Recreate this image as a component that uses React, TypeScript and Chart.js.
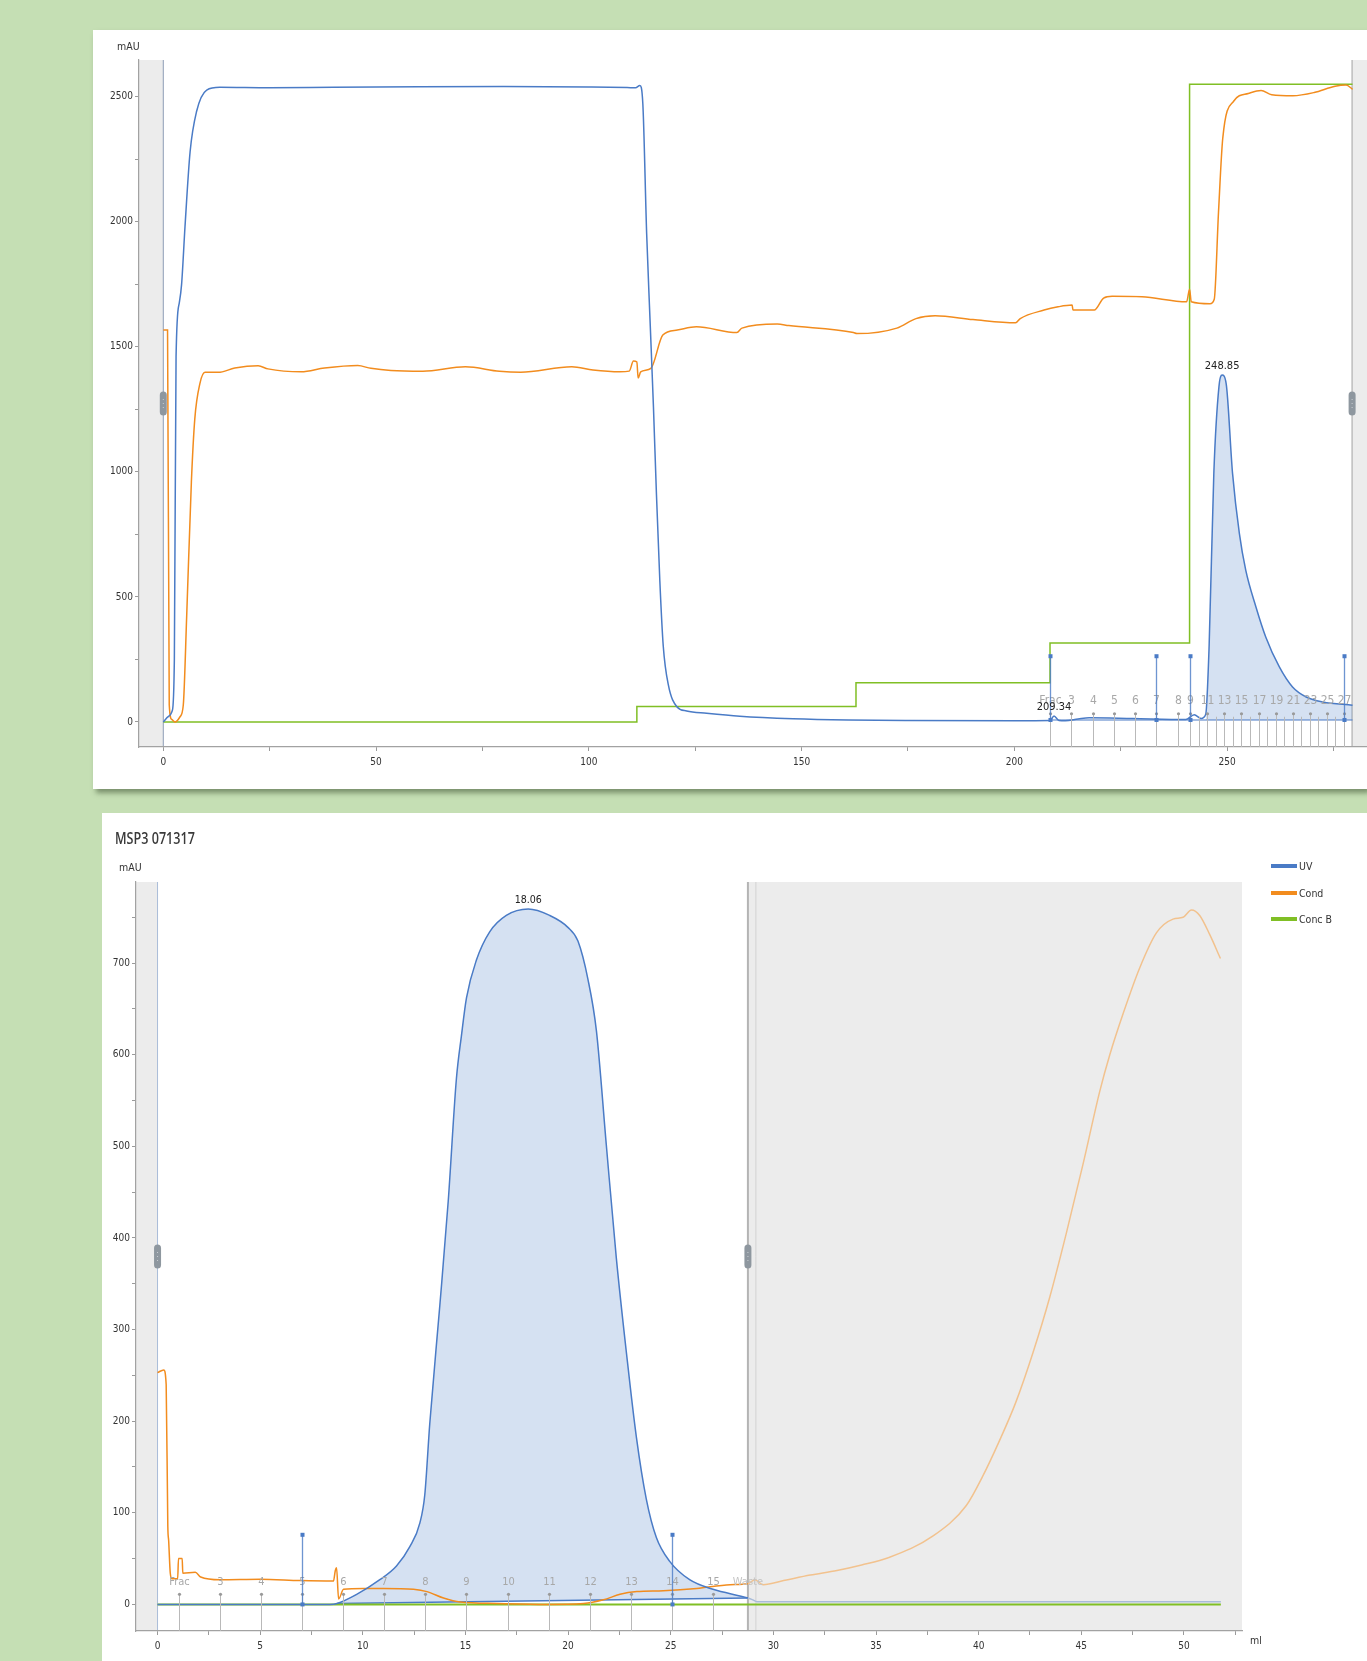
import React, { useEffect, useRef } from 'react';
import { Chart, registerables } from 'chart.js';

Chart.register(...registerables);

const FONT = '"Liberation Sans Narrow", "DejaVu Sans Condensed", "Liberation Sans", Arial, sans-serif';
Chart.defaults.font.family = FONT;

const BLUE = '#4a7bc6';
const ORANGE = '#f28c1e';
const GREEN = '#80bf25';
const BLUE_FADED = '#a9bcd9';
const ORANGE_FADED = '#f2c28e';
const GREEN_FADED = '#bfdc98';
const FILL = 'rgba(74,124,199,0.23)';

// ---------------- TOP RUN (ml vs mAU) ----------------
const topUv: number[][] = [
  [0, 0], [1.2, 22], [2.1, 45], [2.6, 250], [3.0, 1460], [3.75, 1675], [4.3, 1750], [5.1, 1980], [6.3, 2280],
  [7.8, 2440], [10.2, 2527], [13.3, 2538], [25, 2536], [40, 2538], [60, 2540], [80, 2541], [100, 2539],
  [109, 2537], [111, 2536], [112, 2545], [112.7, 2473], [113.6, 1953], [114.4, 1606], [115.2, 1259],
  [115.9, 912], [116.7, 564], [117.5, 304], [118.7, 148], [120.7, 61], [123, 44], [127.7, 35], [135.5, 23],
  [148, 13], [161, 8], [175, 6], [200, 5], [208.4, 6], [209.34, 24], [210.5, 6], [212, 5], [215, 12],
  [217.6, 17], [227.8, 14], [240.3, 10], [242.3, 29], [243.9, 14], [245, 31], [245.8, 306], [246.9, 994],
  [248.1, 1340], [248.85, 1387], [249.8, 1353], [251.3, 994], [252.9, 754], [254.4, 607], [256.8, 460],
  [259.1, 340], [262.3, 220], [265.4, 140], [268.6, 100], [272.5, 80], [279.5, 67],
];
const topCond: number[][] = [
  [0, 1567], [1, 1567], [1.4, 68], [2, 10], [2.8, 0], [3.9, 20], [4.7, 68], [5.5, 425], [6.6, 960],
  [7.4, 1211], [8.6, 1353], [9.8, 1398], [12.9, 1398], [16.8, 1415], [22.3, 1424], [24.6, 1412],
  [32.4, 1400], [37.9, 1415], [45.7, 1425], [48.8, 1414], [53.5, 1405], [61, 1402], [71, 1420], [79, 1402],
  [84, 1398], [96, 1420], [101, 1407], [107.3, 1400], [109.5, 1403], [110.5, 1443], [111.3, 1440],
  [111.6, 1375], [112.2, 1400], [114.6, 1414], [117.4, 1547], [120.8, 1567], [125.3, 1580], [134.8, 1557],
  [136, 1575], [144.3, 1591], [147, 1585], [162.2, 1557], [163, 1553], [172.4, 1575], [176.9, 1613],
  [181.4, 1624], [190.3, 1609], [200.3, 1596], [201.4, 1613], [207, 1647], [210.3, 1660], [213.6, 1667],
  [213.8, 1647], [218.8, 1647], [221, 1695], [223, 1702], [230, 1700], [240.5, 1680], [241.2, 1730],
  [241.6, 1680], [246, 1672], [247, 1690], [248, 2038], [249, 2334], [251.6, 2483], [255, 2513],
  [258, 2525], [260.5, 2508], [265.5, 2504], [270.5, 2517], [275.4, 2542], [278, 2547], [279.5, 2530],
];
const topConcB: number[][] = [
  [0, 0], [111.3, 0], [111.3, 62], [162.8, 62], [162.8, 157], [208.4, 157], [208.4, 316], [241.2, 316],
  [241.2, 2550], [279.5, 2550],
];
const topBaseline: number[][] = [[208.4, 8], [279.5, 8]];
const topPeakRange = [244, 279.5];
const topPeakBase = 8;
const topXTicks = [0, 25, 50, 75, 100, 125, 150, 175, 200, 225, 250, 275];
const topYTicks = [0, 250, 500, 750, 1000, 1250, 1500, 1750, 2000, 2250, 2500];
const topFractionPos = [
  208.4, 213.4, 218.4, 223.4, 228.4, 233.4, 238.4, 241.4, 243.4, 245.4, 247.4, 249.4, 251.4, 253.4,
  255.4, 257.4, 259.4, 261.4, 263.4, 265.4, 267.4, 269.4, 271.4, 273.4, 275.4, 277.4,
];
const topFractionLabels = [
  'Frac', '3', '4', '5', '6', '7', '8', '9', '', '11', '', '13', '', '15', '', '17', '', '19', '', '21',
  '', '23', '', '25', '', '27',
];
const topMarkerPos = [208.4, 233.4, 241.4, 277.4];
const topMarkerRange = [8, 263];
const topPeaks: [number, number, string][] = [[209.34, 24, '209.34'], [248.85, 1387, '248.85']];

// ---------------- BOTTOM RUN: MSP3 071317 ----------------
const bottomUv: number[][] = [
  [0, 0], [8.4, 0], [8.74, 1], [9.7, 11], [10.83, 27], [11.64, 42], [12.29, 63], [12.78, 89], [13.02, 120],
  [13.26, 197], [13.75, 326], [14.16, 440], [14.56, 574], [14.8, 620], [15.05, 662], [15.53, 703],
  [16.18, 734], [16.99, 752], [18.06, 759], [19.1, 752], [19.99, 739], [20.48, 724], [20.97, 682],
  [21.38, 626], [21.86, 502], [22.35, 378], [22.84, 275], [23.33, 182], [23.81, 115], [24.3, 73],
  [24.95, 47], [25.92, 27], [27.06, 16.5], [28.76, 7], [29.0, 5], [29.2, 3], [35, 3], [51.8, 3],
];
const bottomCond: number[][] = [
  [0, 253], [0.3, 256], [0.42, 240], [0.5, 85], [0.54, 70], [0.62, 34], [0.7, 28], [0.98, 28], [1.02, 50],
  [1.2, 50], [1.23, 34], [1.84, 35], [2.1, 30], [3.05, 27], [5, 27.5], [6.95, 26], [8.57, 25.5], [8.66, 37],
  [8.72, 40], [8.82, 6], [9.06, 16.5], [10.04, 17.5], [11.01, 17.5], [12.47, 16.5], [13.12, 14], [13.93, 7],
  [14.74, 2.6], [16.53, 1], [18.96, 0], [20.75, 1], [21.72, 5], [22.53, 11], [23.35, 14], [24.64, 15],
  [26.27, 17.5], [27.89, 21.5], [28.76, 22.5], [29.1, 27], [29.5, 21.5], [30.5, 26], [31.8, 32],
  [33.1, 37], [34.3, 43], [35.6, 51], [37.8, 75], [39.4, 108], [40.2, 140], [41, 178],
  [41.8, 220], [42.65, 275], [43.46, 335], [44.27, 405], [45.08, 480], [45.9, 560], [46.39, 600],
  [47.04, 645], [47.85, 695], [48.66, 733], [49.47, 748], [49.96, 750], [50.37, 758], [50.77, 752],
  [51.26, 731], [51.78, 705],
];
const bottomConcB: number[][] = [[0, 0], [51.8, 0]];
const bottomBaseline: number[][] = [[8.74, 1], [28.76, 7]];
const bottomPeakRange = [8.74, 28.76];
const bottomRunEnd = 28.76;
const bottomXTicks = [0, 2.5, 5, 7.5, 10, 12.5, 15, 17.5, 20, 22.5, 25, 27.5, 30, 32.5, 35, 37.5, 40, 42.5, 45, 47.5, 50, 52.5];
const bottomYTicks = [0, 50, 100, 150, 200, 250, 300, 350, 400, 450, 500, 550, 600, 650, 700, 750];
const bottomFractionPos = [1.05, 3.05, 5.05, 7.05, 9.05, 11.05, 13.05, 15.05, 17.05, 19.05, 21.05, 23.05, 25.05, 27.05];
const bottomFractionLabels = ['Frac', '3', '4', '5', '6', '7', '8', '9', '10', '11', '12', '13', '14', '15'];
const bottomMarkerPos = [7.05, 25.05];
const bottomMarkerRange = [0, 76];
const bottomPeaks: [number, number, string][] = [[18.06, 759, '18.06']];
const legendItems: [string, string][] = [['UV', BLUE], ['Cond', ORANGE], ['Conc B', GREEN]];

const xy = (pts: number[][]) => pts.map(([x, y]) => ({ x, y }));

type Decor = {
  bands: [number, number][];
  vlines: [number, string, number][];
  handles: number[];
  fracPos: number[];
  fracLabels: string[];
  fracDot: number;
  fracLabelY: number;
  fracFont: number;
  extraLabel?: [number, string];
  markers: number[];
  markerRange: number[];
  peaks: [number, number, string][];
  peakFont: number;
};

function decorPlugin(d: Decor) {
  return {
    id: 'decor',
    beforeDraw(chart: any) {
      const { ctx, chartArea: a, scales } = chart;
      const x = scales.x;
      ctx.save();
      ctx.fillStyle = '#ececec';
      for (const [b0, b1] of d.bands) {
        const p0 = Math.max(a.left, x.getPixelForValue(b0));
        const p1 = Math.min(a.right, x.getPixelForValue(b1));
        ctx.fillRect(p0, a.top, p1 - p0, a.bottom - a.top);
      }
      for (const [v, color, w] of d.vlines) {
        const px = x.getPixelForValue(v);
        ctx.strokeStyle = color;
        ctx.lineWidth = w;
        ctx.beginPath();
        ctx.moveTo(px, a.top);
        ctx.lineTo(px, a.bottom);
        ctx.stroke();
      }
      ctx.restore();
    },
    afterDatasetsDraw(chart: any) {
      const { ctx, chartArea: a, scales } = chart;
      const x = scales.x;
      const y = scales.y;
      ctx.save();
      d.fracPos.forEach((v, i) => {
        const px = Math.round(x.getPixelForValue(v)) + 0.5;
        const lab = d.fracLabels[i];
        const top = y.getPixelForValue(d.fracDot) + (lab ? 0 : 3);
        ctx.strokeStyle = '#b9b9b9';
        ctx.lineWidth = 1;
        ctx.beginPath();
        ctx.moveTo(px, top);
        ctx.lineTo(px, a.bottom);
        ctx.stroke();
        if (lab) {
          ctx.fillStyle = '#9a9a9a';
          ctx.beginPath();
          ctx.arc(px, top, 1.6, 0, Math.PI * 2);
          ctx.fill();
          ctx.fillStyle = '#a8a8a8';
          ctx.font = `${d.fracFont}px ${FONT}`;
          ctx.textAlign = 'center';
          ctx.textBaseline = 'middle';
          ctx.fillText(lab, px, y.getPixelForValue(d.fracLabelY));
        }
      });
      if (d.extraLabel) {
        ctx.fillStyle = '#c4c4c4';
        ctx.font = `${d.fracFont}px ${FONT}`;
        ctx.textAlign = 'center';
        ctx.textBaseline = 'middle';
        ctx.fillText(d.extraLabel[1], x.getPixelForValue(d.extraLabel[0]), y.getPixelForValue(d.fracLabelY));
      }
      for (const v of d.markers) {
        const px = Math.round(x.getPixelForValue(v)) + 0.5;
        const y0 = y.getPixelForValue(d.markerRange[0]);
        const y1 = y.getPixelForValue(d.markerRange[1]);
        ctx.strokeStyle = 'rgba(74,123,198,0.8)';
        ctx.lineWidth = 1.3;
        ctx.beginPath();
        ctx.moveTo(px, y0);
        ctx.lineTo(px, y1);
        ctx.stroke();
        ctx.fillStyle = BLUE;
        ctx.fillRect(px - 2, y1 - 2, 4, 4);
        ctx.fillRect(px - 2, y0 - 2, 4, 4);
      }
      for (const [pv, pyv, text] of d.peaks) {
        ctx.fillStyle = '#222';
        ctx.font = `${d.peakFont}px ${FONT}`;
        ctx.textAlign = 'center';
        ctx.textBaseline = 'middle';
        ctx.fillText(text, x.getPixelForValue(pv), y.getPixelForValue(pyv) - 9);
      }
      const cy = (a.top + a.bottom) / 2;
      for (const hv of d.handles) {
        const px = x.getPixelForValue(hv);
        const w = 7, h = 24, r = 3.5;
        ctx.fillStyle = '#8e979f';
        ctx.beginPath();
        ctx.moveTo(px - w / 2 + r, cy - h / 2);
        ctx.arcTo(px + w / 2, cy - h / 2, px + w / 2, cy + h / 2, r);
        ctx.arcTo(px + w / 2, cy + h / 2, px - w / 2, cy + h / 2, r);
        ctx.arcTo(px - w / 2, cy + h / 2, px - w / 2, cy - h / 2, r);
        ctx.arcTo(px - w / 2, cy - h / 2, px + w / 2, cy - h / 2, r);
        ctx.closePath();
        ctx.fill();
        ctx.fillStyle = '#c9ced2';
        for (const dy of [-4, 0, 4]) ctx.fillRect(px - 0.5, cy + dy - 0.5, 1, 1);
      }
      ctx.restore();
    },
  };
}

function axisOpts(min: number, max: number, ticks: number[], labelEvery: number, size: number, horizontal: boolean) {
  return {
    type: 'linear',
    min,
    max,
    afterBuildTicks: (s: any) => {
      s.ticks = ticks.map((v) => ({ value: v }));
    },
    afterFit: (s: any) => {
      if (horizontal) s.height = size;
      else s.width = size;
    },
    ticks: {
      autoSkip: false,
      maxRotation: 0,
      minRotation: 0,
      includeBounds: false,
      color: '#333',
      font: { size: 10, family: FONT },
      padding: horizontal ? 5 : 2,
      callback: (v: number) => (Math.abs(v / labelEvery - Math.round(v / labelEvery)) < 1e-9 ? String(v) : ''),
    },
    grid: { drawOnChartArea: false, drawTicks: true, tickLength: 4, color: '#9a9a9a' },
    border: { display: true, color: '#a2a2a2', width: 1.2 },
  };
}

const line = (label: string, data: number[][], color: string, extra: any = {}) => ({
  label,
  data: xy(data),
  borderColor: color,
  borderWidth: 1.5,
  pointRadius: 0,
  fill: false,
  cubicInterpolationMode: 'monotone',
  ...extra,
});

function buildTop() {
  const decor = decorPlugin({
    bands: [[-10, 0], [279.4, 300]],
    vlines: [[0, '#8d9cb6', 1], [279.4, '#bdbdbd', 1.5]],
    handles: [0, 279.4],
    fracPos: topFractionPos,
    fracLabels: topFractionLabels,
    fracDot: 33,
    fracLabelY: 84,
    fracFont: 12,
    markers: topMarkerPos,
    markerRange: topMarkerRange,
    peaks: topPeaks,
    peakFont: 11,
  });
  return {
    type: 'line',
    data: {
      datasets: [
        line('UV', topUv, BLUE),
        line('baseline', topBaseline, BLUE, { borderWidth: 1.2, cubicInterpolationMode: 'default', tension: 0 }),
        line('Cond', topCond, ORANGE),
        line('Conc B', topConcB, GREEN, { cubicInterpolationMode: 'default', tension: 0 }),
        line('peak', topUv.filter((p) => p[0] >= topPeakRange[0] && p[0] <= topPeakRange[1]), 'rgba(0,0,0,0)', {
          borderWidth: 0,
          fill: { value: topPeakBase },
          backgroundColor: FILL,
        }),
      ],
    },
    options: {
      animation: false,
      responsive: false,
      devicePixelRatio: 1,
      events: [],
      layout: { padding: { top: 30, left: 0, right: 0, bottom: 0 } },
      plugins: { legend: { display: false }, tooltip: { enabled: false } },
      scales: {
        x: axisOpts(-5.71, 282.9, topXTicks, 50, 42, true),
        y: axisOpts(-100, 2647, topYTicks, 500, 46, false),
      },
    },
    plugins: [decor],
  };
}

function buildBottom() {
  const faded = (normal: string, fadedC: string) => ({
    borderColor: (c: any) => (c.p0.parsed.x >= bottomRunEnd - 0.001 ? fadedC : normal),
  });
  const decor = decorPlugin({
    bands: [[-5, 0], [bottomRunEnd, 60]],
    vlines: [[0, '#a9bcd8', 1], [bottomRunEnd, '#b4b4b4', 2], [29.15, '#d2d2d2', 1]],
    handles: [0, bottomRunEnd],
    fracPos: bottomFractionPos,
    fracLabels: bottomFractionLabels,
    fracDot: 11,
    fracLabelY: 24,
    fracFont: 11,
    extraLabel: [bottomRunEnd, 'Waste'],
    markers: bottomMarkerPos,
    markerRange: bottomMarkerRange,
    peaks: bottomPeaks,
    peakFont: 10.5,
  });
  return {
    type: 'line',
    data: {
      datasets: [
        line('UV', bottomUv, BLUE, { segment: faded(BLUE, BLUE_FADED) }),
        line('Cond', bottomCond, ORANGE, { segment: faded(ORANGE, ORANGE_FADED) }),
        line('Conc B', bottomConcB, GREEN, { cubicInterpolationMode: 'default', tension: 0, borderWidth: 2, segment: faded(GREEN, GREEN_FADED) }),
        line('baseline', bottomBaseline, BLUE, { borderWidth: 1.3, cubicInterpolationMode: 'default', tension: 0 }),
        line('peak', bottomUv.filter((p) => p[0] >= bottomPeakRange[0] && p[0] <= bottomPeakRange[1]), 'rgba(0,0,0,0)', {
          borderWidth: 0,
          fill: 3,
          backgroundColor: FILL,
        }),
      ],
    },
    options: {
      animation: false,
      responsive: false,
      devicePixelRatio: 1,
      events: [],
      layout: { padding: { top: 69, left: 0, right: 125, bottom: 0 } },
      plugins: { legend: { display: false }, tooltip: { enabled: false } },
      scales: {
        x: axisOpts(-1.05, 52.83, bottomXTicks, 5, 30, true),
        y: axisOpts(-29, 788.5, bottomYTicks, 100, 34, false),
      },
    },
    plugins: [decor],
  };
}

function ChartCanvas({ build, width, height }: { build: () => any; width: number; height: number }) {
  const ref = useRef<HTMLCanvasElement>(null);
  useEffect(() => {
    if (!ref.current) return;
    const chart = new Chart(ref.current, build());
    return () => chart.destroy();
  }, []);
  return (
    <canvas
      ref={ref}
      width={width}
      height={height}
      style={{ position: 'absolute', left: 0, top: 0, width, height, display: 'block' }}
    />
  );
}

const smallText: React.CSSProperties = {
  position: 'absolute',
  fontFamily: FONT,
  fontSize: 10.5,
  color: '#333',
  lineHeight: '12px',
  whiteSpace: 'nowrap',
};

export default function App() {
  return (
    <div
      style={{
        position: 'fixed',
        left: 0,
        top: 0,
        width: 1367,
        height: 1661,
        background: '#c5dfb4',
        overflow: 'hidden',
      }}
    >
      <div
        style={{
          position: 'absolute',
          left: 93,
          top: 30,
          width: 1274,
          height: 759,
          background: '#fff',
          boxShadow: '3px 4px 5px rgba(60,80,50,0.55)',
        }}
      >
        <ChartCanvas build={buildTop} width={1274} height={759} />
        <div style={{ ...smallText, left: 24, top: 10 }}>mAU</div>
      </div>
      <div
        style={{
          position: 'absolute',
          left: 102,
          top: 813,
          width: 1265,
          height: 848,
          background: '#fff',
        }}
      >
        <ChartCanvas build={buildBottom} width={1265} height={848} />
        <div
          style={{
            position: 'absolute',
            left: 13,
            top: 14,
            fontFamily: '"Open Sans", Roboto, sans-serif',
            fontSize: 17,
            fontWeight: 600,
            color: '#3a3a3a',
            lineHeight: '22px',
            whiteSpace: 'nowrap',
            transform: 'scaleX(0.74)',
            transformOrigin: 'left center',
          }}
        >
          MSP3 071317
        </div>
        <div style={{ ...smallText, left: 17, top: 48 }}>mAU</div>
        {legendItems.map(([name, color], i) => (
          <div key={name} style={{ position: 'absolute', left: 1169, top: 47 + i * 26.5, height: 12 }}>
            <div style={{ position: 'absolute', left: 0, top: 4, width: 26, height: 4, background: color }} />
            <div style={{ ...smallText, left: 28, top: 0 }}>{name}</div>
          </div>
        ))}
        <div style={{ ...smallText, left: 1148, top: 821 }}>ml</div>
      </div>
    </div>
  );
}
